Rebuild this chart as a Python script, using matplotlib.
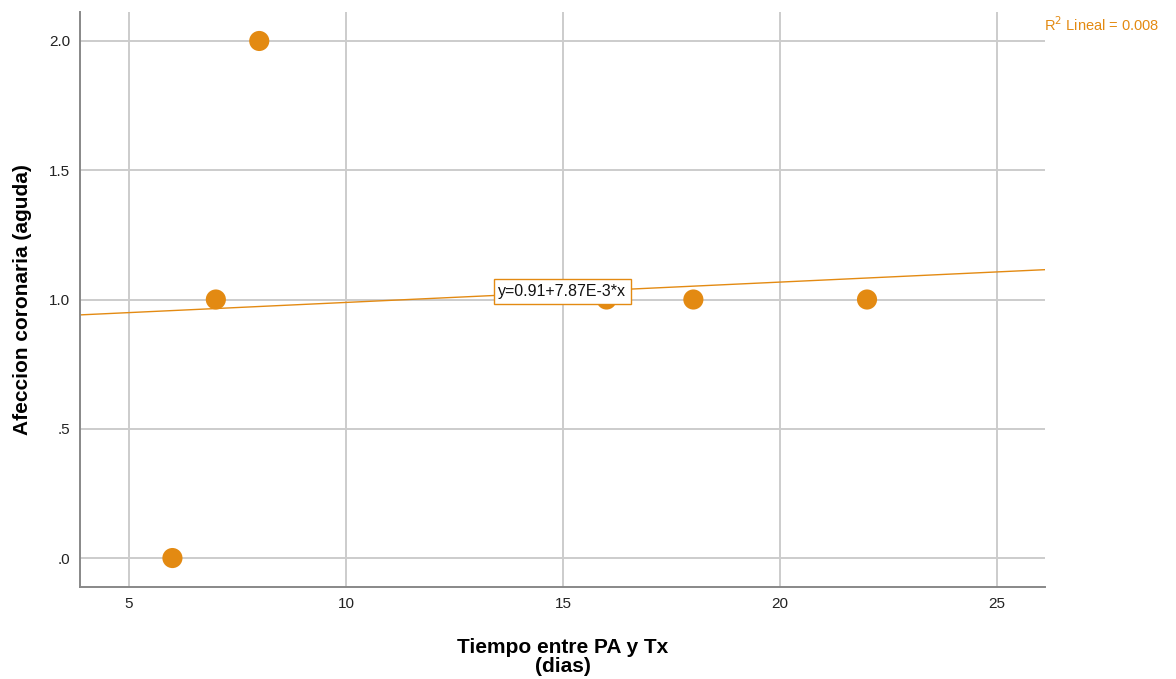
import numpy as np
import matplotlib.pyplot as plt

plt.rcParams['font.family'] = ['Liberation Sans', 'DejaVu Sans']

# observations: time between PA and Tx (days) vs acute coronary involvement
tiempo = [6, 7, 8, 16, 18, 22]
afeccion = [0, 1, 2, 1, 1, 1]

# linear fit reported by the model
intercepto = 0.91
pendiente = 7.87e-3
r2 = 0.008

x_ticks = [5, 10, 15, 20, 25]
y_ticks = [0.0, 0.5, 1.0, 1.5, 2.0]
y_labels = ['.0', '.5', '1.0', '1.5', '2.0']

naranja = '#e38a12'

fig = plt.figure(figsize=(11.76, 6.79), dpi=100)
ax = fig.add_axes([0.068, 0.1355, 0.8206, 0.8468])

xmin, xmax = 3.87, 26.1
ax.set_xlim(xmin, xmax)
ax.set_ylim(-0.112, 2.112)

ax.set_xticks(x_ticks)
ax.set_yticks(y_ticks)
ax.set_yticklabels(y_labels)
ax.tick_params(length=0, labelsize=11, colors='#222222', pad=7)
ax.grid(True, color='#cccccc', linewidth=1.4)
ax.set_axisbelow(True)

for side in ['top', 'right']:
    ax.spines[side].set_visible(False)
for side in ['left', 'bottom']:
    ax.spines[side].set_color('#888888')
    ax.spines[side].set_linewidth(1.4)

# regression line across the full x range
xs = np.array([xmin, xmax])
ax.plot(xs, intercepto + pendiente * xs, color=naranja, linewidth=1.0, zorder=2)

ax.scatter(tiempo, afeccion, s=210, color=naranja, edgecolors='none', zorder=3)

ax.text(0.5, 0.514, 'y=0.91+7.87E-3*x', transform=ax.transAxes,
        ha='center', va='center', fontsize=11.5, color='#111111', zorder=4,
        bbox=dict(boxstyle='square,pad=0.3', facecolor='white',
                  edgecolor=naranja, linewidth=1.0))

fig.text(0.888, 0.963, 'R$^2$ Lineal = %.3f' % r2, color=naranja,
         fontsize=10.5, ha='left', va='center')

ax.set_xlabel('Tiempo entre PA y Tx\n(dias)', fontsize=15, fontweight='bold',
              labelpad=20, linespacing=0.95)
ax.set_ylabel('Afeccion coronaria (aguda)', fontsize=15, fontweight='bold',
              labelpad=12)

fig.savefig('out.png', dpi=100)
